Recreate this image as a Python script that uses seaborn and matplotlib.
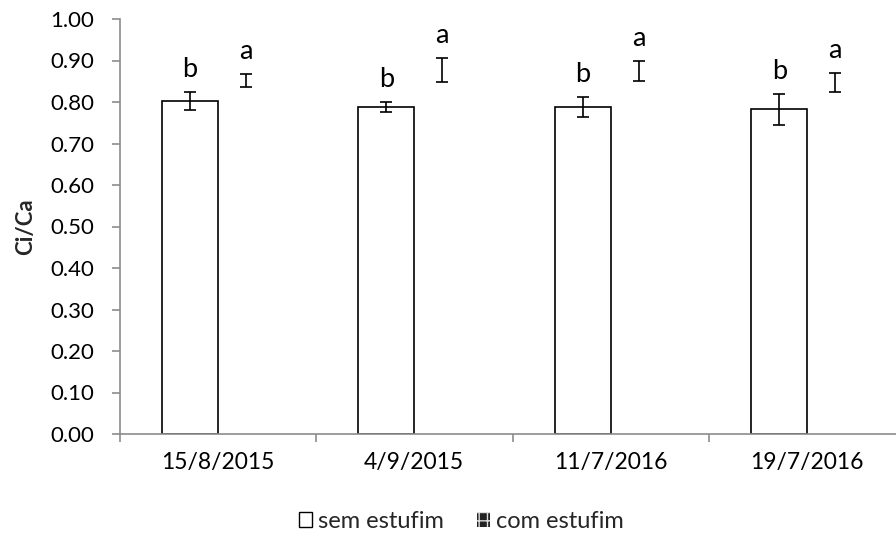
import matplotlib
matplotlib.use("Agg")
import matplotlib.pyplot as plt
import seaborn as sns
import pandas as pd
import numpy as np
from matplotlib.patches import Patch
from matplotlib.ticker import FixedLocator

dates = ["15/8/2015", "4/9/2015", "11/7/2016", "19/7/2016"]
series = ["sem estufim", "com estufim"]
sem_vals = [0.803, 0.787, 0.787, 0.782]
sem_err = [0.022, 0.012, 0.024, 0.037]
com_vals = [0.851, 0.878, 0.875, 0.847]
com_err = [0.016, 0.029, 0.024, 0.023]
sem_letters = ["b", "b", "b", "b"]
com_letters = ["a", "a", "a", "a"]
yticks = [0.0, 0.1, 0.2, 0.3, 0.4, 0.5, 0.6, 0.7, 0.8, 0.9, 1.0]

sns.set_theme(style="white")
plt.rcParams['font.family'] = ['Lato', 'DejaVu Sans']

df = pd.DataFrame({
    "date": dates * 2,
    "serie": [series[0]] * 4 + [series[1]] * 4,
    "val": sem_vals + com_vals,
})

fig = plt.figure(figsize=(8.96, 5.38), dpi=100)
ax = fig.add_axes([119.5 / 896, 104 / 538, 786 / 896, 415 / 538])

sns.barplot(data=df, x="date", y="val", hue="serie", order=dates,
            hue_order=series, errorbar=None, width=0.57,
            palette=["white", "white"], ax=ax, legend=False)

patches = ax.patches
sem_patches = patches[:4]
com_patches = patches[4:8]
for p in sem_patches:
    p.set_facecolor("white")
    p.set_edgecolor("black")
    p.set_linewidth(1.2)
for p in com_patches:
    p.set_facecolor("none")
    p.set_edgecolor("none")

gray = "#8c8c8c"
for plist, vals, errs, letters in [(sem_patches, sem_vals, sem_err, sem_letters),
                                   (com_patches, com_vals, com_err, com_letters)]:
    xs = [p.get_x() + p.get_width() / 2 for p in plist]
    ax.errorbar(xs, vals, yerr=errs, fmt="none", ecolor="black",
                elinewidth=1.2, capsize=4.3, capthick=1.2, zorder=5)
    for x, v, e, l in zip(xs, vals, errs, letters):
        ax.text(x, v + e + 0.036, l, ha="center", va="baseline", fontsize=19.5,
                color="black")

ax.set_ylim(0, 1.0)
ax.set_xlim(-0.5, 3.5)
ax.set_yticks(yticks)
ax.set_yticklabels([f"{t:.2f}" for t in yticks], fontsize=16)
ax.set_xticks(range(len(dates)))
ax.set_xticklabels(dates, fontsize=16.5)
ax.xaxis.set_minor_locator(FixedLocator([-0.5, 0.5, 1.5, 2.5, 3.5]))
ax.tick_params(axis="x", which="major", length=0, pad=13, colors="black")
ax.tick_params(axis="x", which="minor", length=6, width=1.2, color=gray,
               direction="out", bottom=True)
ax.tick_params(axis="y", length=6, width=1.2, color=gray, direction="out",
               left=True, pad=12, labelcolor="black")
ax.set_xlabel("")
ax.set_ylabel("Ci/Ca", fontsize=16, fontweight="bold", labelpad=10)

for s in ["top", "right"]:
    ax.spines[s].set_visible(False)
for s in ["left", "bottom"]:
    ax.spines[s].set_color(gray)
    ax.spines[s].set_linewidth(1.2)

handles = [
    Patch(facecolor="white", edgecolor="black", linewidth=1.0, label=series[0]),
    Patch(facecolor="#222222", edgecolor="#dddddd", hatch="++",
          linewidth=0.0, label=series[1]),
]
fig.legend(handles=handles, loc="center", bbox_to_anchor=(0.515, 0.031),
           ncol=2, frameon=False, fontsize=17, handlelength=0.55,
           handleheight=0.55, handletextpad=0.25, columnspacing=1.4)

fig.savefig("out.png", dpi=100)
